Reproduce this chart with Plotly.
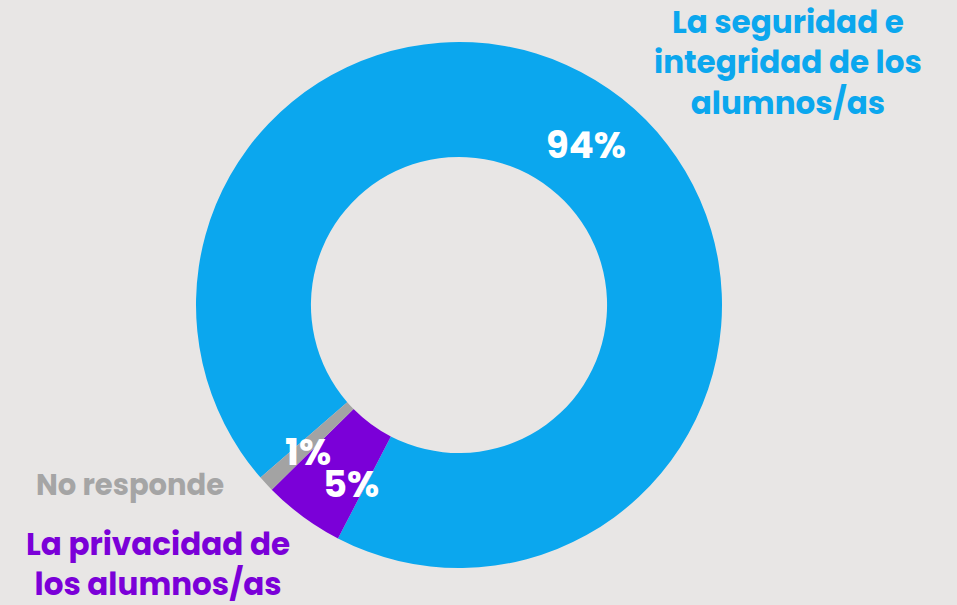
import math
import plotly.graph_objects as go

categories = ["La seguridad e<br>integridad de los<br>alumnos/as", "La privacidad de<br>los alumnos/as", "No responde"]
values = [94, 5, 1]
colors = ["#0BA7EE", "#7B00D8", "#A3A3A3"]
label_colors = ["#0BA7EE", "#7B00D8", "#A5A5A5"]
pct_labels = ["94%", "5%", "1%"]

W, H = 957, 605
cx, cy, R = 459, 305, 263
hole = 0.563
rotation = 229

fig = go.Figure(go.Pie(
    labels=categories, values=values, sort=False, direction="clockwise",
    rotation=rotation, hole=hole, marker=dict(colors=colors, line=dict(width=0)),
    textinfo="none", showlegend=False, hoverinfo="label+percent",
    domain=dict(x=[(cx - R) / W, (cx + R) / W], y=[(H - cy - R) / H, (H - cy + R) / H]),
))

font = "Poppins, Inter, Lato, sans-serif"
annotations = []
total = sum(values)
start = rotation
rmid = R * (1 + hole) / 2
offsets = [(0, 2), (14, 14), (0, 7)]
for v, t, off in zip(values, pct_labels, offsets):
    span = 360 * v / total
    mid = math.radians(start + span / 2)
    x = cx + rmid * math.sin(mid) + off[0]
    y = cy - rmid * math.cos(mid) + off[1]
    annotations.append(dict(x=x / W, y=1 - y / H, xref="paper", yref="paper", text=t,
                            showarrow=False, font=dict(family=font, size=37, color="white", weight="bold"),
                            xanchor="center", yanchor="middle"))
    start += span

label_pos = [(788, 63), (158, 564), (130, 485)]
label_sizes = [31, 31, 29]
for cat, col, (lx, ly), sz in zip(categories, label_colors, label_pos, label_sizes):
    annotations.append(dict(x=lx / W, y=1 - ly / H, xref="paper", yref="paper", text=cat,
                            showarrow=False, align="center", xanchor="center", yanchor="middle",
                            font=dict(family=font, size=sz, color=col, weight="bold")))

fig.update_layout(width=W, height=H, margin=dict(l=0, r=0, t=0, b=0),
                  paper_bgcolor="#E8E6E5", plot_bgcolor="#E8E6E5", annotations=annotations)
fig.write_html("out.html", config={"displayModeBar": False},
               post_script="document.body.style.margin='0';document.body.style.background='#E8E6E5';")
